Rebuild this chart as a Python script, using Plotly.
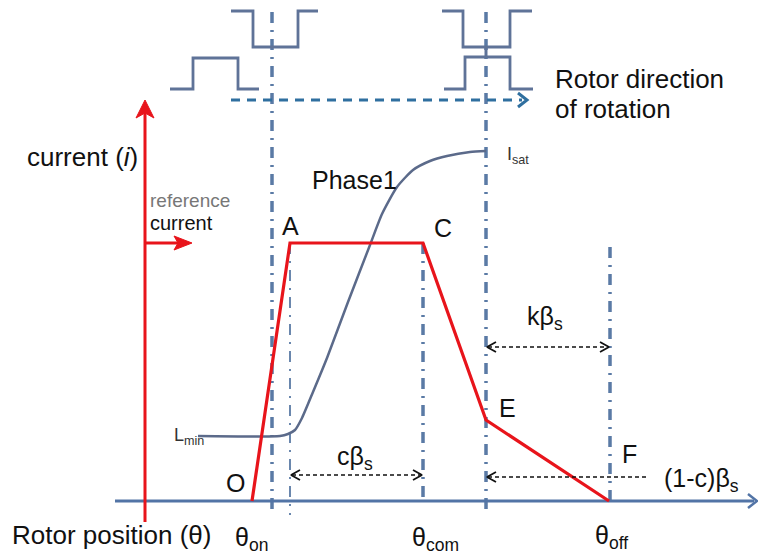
import plotly.graph_objects as go

# ---------------- data (diagram units: x = rotor angle, y = screen height) ----
# key rotor positions
theta_on, theta_A, theta_com, theta_E, theta_off = 272, 290, 423, 486, 610
axis_y = 501            # theta axis (zero current)
ref_level = 243         # reference current level
# reference current profile O-A-C-E-F
profile_theta = [252, 290, 423, 486, 609]
profile_current = [501, 243, 243, 420, 501]
# phase-1 current (inductance shaped) curve from Lmin to Isat
phase_theta = [198, 280, 288, 295, 302, 313, 327, 348, 370, 382, 397, 413, 430, 447, 470, 486]
phase_current = [436, 436, 434, 430, 418, 392, 358, 302, 245, 214, 187, 170, 161, 156, 152, 151]
# rotor pole / stator pole square waves (top)
wave_up_x = [231, 253, 253, 298, 298, 318, None, 442, 463, 463, 510, 510, 532]
wave_up_y = [11, 11, 47, 47, 11, 11, None, 11, 11, 47, 47, 11, 11]
wave_lo_x = [170, 193, 193, 238, 238, 259, None, 444, 465, 465, 510, 510, 533]
wave_lo_y = [89, 89, 58, 58, 89, 89, None, 89, 89, 57, 57, 89, 89]
# vertical dash-dot markers: (x, top, bottom, width)
markers = [(theta_on, 12, 515, 3.5), (theta_A, 243, 515, 1.8),
           (theta_com, 243, 501, 3.5), (theta_E, 12, 515, 3.5),
           (theta_off, 247, 501, 3.5)]

RED = "#e8141b"
BLUE = "#5274a6"
GREY_BLUE = "#5f7398"
FONT = "Liberation Sans"

fig = go.Figure()


def line(x, y, color, width, dash="solid", shape="linear", smoothing=None):
    ld = dict(color=color, width=width, dash=dash, shape=shape)
    if smoothing is not None:
        ld["smoothing"] = smoothing
    fig.add_trace(go.Scatter(x=x, y=y, mode="lines", hoverinfo="skip", line=ld))


def chevron(tx, ty, dx, dy, L, W, color, width):
    nx, ny = -dy, dx
    line([tx - L * dx + W * nx, tx, tx - L * dx - W * nx],
         [ty - L * dy + W * ny, ty, ty - L * dy - W * ny], color, width)


def solid_head(tx, ty, dx, dy, L, W, notch, color):
    nx, ny = -dy, dx
    xs = [tx, tx - L * dx + W * nx, tx - (L - notch) * dx, tx - L * dx - W * nx, tx]
    ys = [ty, ty - L * dy + W * ny, ty - (L - notch) * dy, ty - L * dy - W * ny, ty]
    fig.add_trace(go.Scatter(x=xs, y=ys, mode="lines", fill="toself", fillcolor=color,
                             line=dict(color=color, width=1), hoverinfo="skip"))


# vertical dash-dot lines
for mx, top, bot, w in markers:
    line([mx, mx], [top, bot], "#5a7aa5", w, dash="11px,7px,2px,7px")
line([theta_E, theta_E], [47, 58], GREY_BLUE, 3)

# square waves
line(wave_up_x, wave_up_y, GREY_BLUE, 2.8)
line(wave_lo_x, wave_lo_y, GREY_BLUE, 2.8)

# rotation direction arrow
line([231, 522], [100, 100], "#2f6f9f", 3, dash="9px,7px")
chevron(527, 100, 1, 0, 9, 7, "#2f6f9f", 3)

# theta axis
line([115, 754], [axis_y, axis_y], BLUE, 3)
chevron(757, axis_y, 1, 0, 9, 7, BLUE, 2.5)

# current axis (red)
line([145, 145], [522, 112], RED, 3)
solid_head(145, 100, 0, -1, 18, 9, 5, RED)
line([145, 180], [ref_level, ref_level], RED, 3)
solid_head(192, ref_level, 1, 0, 18, 7, 4, RED)

# phase1 curve
line(phase_theta, phase_current, "#5b6a8a", 2.5, shape="spline", smoothing=0.6)

# reference current profile
line(profile_theta, profile_current, RED, 3.2)

# dimension arrows
K = "#111111"
for (x0, x1, y, left, right) in [(theta_A, theta_com, 475, True, True),
                                 (theta_E, theta_off, 347, True, True),
                                 (theta_E, 650, 477, True, False)]:
    line([x0 + 2, x1 - 2], [y, y], K, 1.3, dash="4px,3px")
    if left:
        chevron(x0 + 1, y, -1, 0, 9, 5, K, 1.8)
    if right:
        chevron(x1 - 1, y, 1, 0, 9, 5, K, 1.8)

# ---------------- text ----------------
texts = [
    ("current (<i>i</i>)", 25, 157, 26, "left", "#111"),
    ("reference", 148, 200, 19, "left", "#777"),
    ("current", 148, 223, 20, "left", "#111"),
    ("Rotor direction", 553, 79, 26, "left", "#111"),
    ("of rotation", 553, 109, 26, "left", "#111"),
    ("Phase1", 310, 180, 25, "left", "#111"),
    ("I<sub>sat</sub>", 505, 155, 18, "left", "#333"),
    ("L<sub>min</sub>", 172, 436, 18, "left", "#333"),
    ("A", 290, 226, 25, "center", "#111"),
    ("C", 443, 228, 25, "center", "#111"),
    ("E", 507, 408, 25, "center", "#111"),
    ("F", 629, 454, 25, "center", "#111"),
    ("O", 235, 483, 25, "center", "#111"),
    ("cβ<sub>s</sub>", 335, 458, 25, "left", "#111"),
    ("kβ<sub>s</sub>", 525, 318, 25, "left", "#111"),
    ("(1-c)β<sub>s</sub>", 662, 480, 25, "left", "#111"),
    ("Rotor position (θ)", 10, 535, 26, "left", "#111"),
    ("θ<sub>on</sub>", 233, 539, 25, "left", "#111"),
    ("θ<sub>com</sub>", 410, 539, 25, "left", "#111"),
    ("θ<sub>off</sub>", 593, 537, 25, "left", "#111"),
]
for t, x, y, s, anchor, c in texts:
    fig.add_annotation(x=x, y=y, text=t, showarrow=False, xanchor=anchor, yanchor="middle",
                       font=dict(family=FONT, size=s, color=c))

fig.update_layout(width=758, height=555, margin=dict(l=0, r=0, t=0, b=0),
                  paper_bgcolor="white", plot_bgcolor="white", showlegend=False,
                  xaxis=dict(range=[0, 758], visible=False, fixedrange=True),
                  yaxis=dict(range=[555, 0], visible=False, fixedrange=True))
fig.write_html("out.html", config={"displayModeBar": False},
               post_script="document.body.style.margin='0px';"
               "document.body.style.overflow='hidden';")
